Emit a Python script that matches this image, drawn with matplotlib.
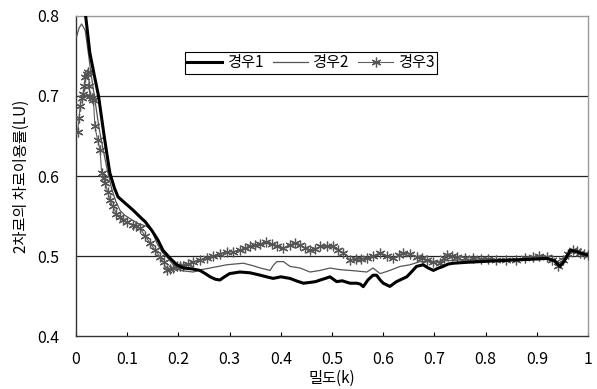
import matplotlib
matplotlib.use("Agg")
import matplotlib.pyplot as plt

plt.rcParams['font.family'] = ['Noto Sans CJK KR', 'DejaVu Sans']

case1_x = [0.012, 0.018, 0.027, 0.036, 0.044, 0.055, 0.066, 0.075, 0.082, 0.096, 0.105, 0.112, 0.12, 0.128,
           0.135, 0.148, 0.16, 0.17, 0.184, 0.197, 0.21, 0.225, 0.242, 0.255, 0.262, 0.272, 0.281, 0.29,
           0.30, 0.32, 0.34, 0.36, 0.372, 0.385, 0.40, 0.418, 0.43, 0.444, 0.457, 0.468, 0.477, 0.487,
           0.496, 0.509, 0.52, 0.535, 0.548, 0.555, 0.561, 0.57, 0.58, 0.587, 0.594, 0.60, 0.613, 0.626,
           0.636, 0.646, 0.655, 0.665, 0.678, 0.688, 0.698, 0.708, 0.717, 0.727, 0.737, 0.76, 0.789, 0.82,
           0.854, 0.89, 0.92, 0.935, 0.945, 0.953, 0.965, 0.975, 0.984, 1.0]
case1_y = [0.83, 0.805, 0.754, 0.725, 0.70, 0.65, 0.604, 0.585, 0.574, 0.566, 0.561, 0.557, 0.552, 0.547,
           0.543, 0.532, 0.52, 0.507, 0.497, 0.489, 0.485, 0.484, 0.482, 0.477, 0.474, 0.471, 0.470, 0.474,
           0.478, 0.480, 0.479, 0.476, 0.474, 0.472, 0.474, 0.472, 0.469, 0.466, 0.467, 0.468, 0.470, 0.472,
           0.474, 0.468, 0.469, 0.466, 0.466, 0.465, 0.4617, 0.47, 0.476, 0.476, 0.470, 0.466, 0.462, 0.468,
           0.471, 0.474, 0.480, 0.487, 0.489, 0.485, 0.482, 0.485, 0.487, 0.490, 0.491, 0.492, 0.493, 0.494,
           0.495, 0.496, 0.497, 0.494, 0.487, 0.493, 0.507, 0.506, 0.504, 0.501]

case2_x = [0.001, 0.006, 0.011, 0.018, 0.024, 0.03, 0.037, 0.045, 0.053, 0.062, 0.07, 0.078, 0.086, 0.095,
           0.105, 0.12, 0.138, 0.148, 0.158, 0.168, 0.177, 0.19, 0.203, 0.215, 0.229, 0.245, 0.262, 0.278,
           0.294, 0.31, 0.327, 0.345, 0.36, 0.379, 0.385, 0.392, 0.405, 0.418, 0.4375, 0.457, 0.477, 0.496,
           0.515, 0.535, 0.552, 0.568, 0.58, 0.594, 0.613, 0.633, 0.652, 0.672, 0.698, 0.72, 0.75, 0.79,
           0.83, 0.87, 0.91, 0.94, 0.95, 0.965, 0.98, 1.0]
case2_y = [0.774, 0.785, 0.79, 0.782, 0.754, 0.725, 0.695, 0.66, 0.633, 0.605, 0.583, 0.568, 0.557, 0.551,
           0.547, 0.541, 0.537, 0.532, 0.516, 0.505, 0.499, 0.489, 0.482, 0.481, 0.48, 0.483, 0.485, 0.487,
           0.489, 0.49, 0.491, 0.488, 0.485, 0.482, 0.488, 0.493, 0.493, 0.487, 0.485, 0.480, 0.482, 0.485,
           0.483, 0.482, 0.481, 0.48, 0.485, 0.478, 0.482, 0.487, 0.489, 0.493, 0.493, 0.494, 0.495, 0.495,
           0.496, 0.496, 0.498, 0.493, 0.497, 0.505, 0.505, 0.502]

case3_x = [0.003, 0.006, 0.008, 0.011, 0.014, 0.016, 0.018, 0.021, 0.024, 0.026, 0.027, 0.031, 0.034, 0.037,
           0.042, 0.047, 0.05, 0.054, 0.057, 0.062, 0.066, 0.072, 0.079, 0.085, 0.092, 0.1, 0.111, 0.118,
           0.125, 0.135, 0.145, 0.155, 0.164, 0.171, 0.177, 0.184, 0.19, 0.197, 0.203, 0.209, 0.218, 0.228,
           0.242, 0.255, 0.268, 0.281, 0.295, 0.307, 0.32, 0.33, 0.34, 0.35, 0.36, 0.372, 0.382, 0.392,
           0.405, 0.418, 0.428, 0.4375, 0.447, 0.457, 0.467, 0.477, 0.49, 0.502, 0.512, 0.522, 0.535, 0.547,
           0.557, 0.568, 0.58, 0.594, 0.607, 0.62, 0.63, 0.639, 0.652, 0.665, 0.675, 0.685, 0.698, 0.711,
           0.718, 0.724, 0.734, 0.744, 0.76, 0.776, 0.79, 0.805, 0.82, 0.84, 0.86, 0.876, 0.893, 0.905,
           0.919, 0.93, 0.942, 0.951, 0.96, 0.971, 0.978, 0.984, 0.992, 1.0]
case3_y = [0.655, 0.672, 0.687, 0.698, 0.703, 0.712, 0.724, 0.728, 0.73, 0.712, 0.70, 0.698, 0.695, 0.662,
           0.645, 0.633, 0.604, 0.598, 0.591, 0.58, 0.57, 0.562, 0.553, 0.549, 0.545, 0.542, 0.539, 0.537,
           0.535, 0.525, 0.516, 0.507, 0.499, 0.492, 0.4825, 0.484, 0.485, 0.487, 0.487, 0.488, 0.49, 0.492,
           0.495, 0.498, 0.5, 0.503, 0.505, 0.505, 0.507, 0.51, 0.512, 0.514, 0.515, 0.518, 0.515, 0.512,
           0.51, 0.514, 0.516, 0.514, 0.51, 0.507, 0.509, 0.512, 0.512, 0.512, 0.508, 0.504, 0.495, 0.496,
           0.496, 0.497, 0.5, 0.504, 0.5, 0.497, 0.501, 0.504, 0.502, 0.499, 0.497, 0.495, 0.493, 0.491,
           0.497, 0.501, 0.5, 0.499, 0.498, 0.497, 0.496, 0.496, 0.495, 0.495, 0.495, 0.497, 0.499, 0.5,
           0.499, 0.495, 0.487, 0.495, 0.502, 0.507, 0.506, 0.504, 0.502, 0.501]

labels = ['경우1', '경우2', '경우3']
x_ticks = [0, 0.1, 0.2, 0.3, 0.4, 0.5, 0.6, 0.7, 0.8, 0.9, 1]
x_ticklabels = ['0', '0.1', '0.2', '0.3', '0.4', '0.5', '0.6', '0.7', '0.8', '0.9', '1']
y_ticks = [0.4, 0.5, 0.6, 0.7, 0.8]
y_ticklabels = ['0.4', '0.5', '0.6', '0.7', '0.8']

fig = plt.figure(figsize=(5.97, 3.89), dpi=100)
ax = fig.add_axes([0.1273, 0.1362, 0.985 - 0.1273, 0.9589 - 0.1362])

l1, = ax.plot(case1_x, case1_y, color='black', lw=2.2, zorder=5, label=labels[0])
l2, = ax.plot(case2_x, case2_y, color='#555555', lw=0.9, zorder=4, label=labels[1])
l3, = ax.plot(case3_x, case3_y, color='#606060', lw=0.8, marker=(6, 2, 0), markersize=7,
              markeredgewidth=0.9, markeredgecolor='#555555', zorder=3, label=labels[2])

ax.set_xlim(0, 1)
ax.set_ylim(0.4, 0.8)
ax.set_xticks(x_ticks)
ax.set_xticklabels(x_ticklabels)
ax.set_yticks(y_ticks)
ax.set_yticklabels(y_ticklabels)
ax.tick_params(axis='x', direction='in', length=3, width=0.8, pad=11, labelsize=11.5)
ax.tick_params(axis='y', length=0, pad=12, labelsize=11.5)

for y in [0.5, 0.6, 0.7]:
    ax.axhline(y, color='#222222', lw=0.9, zorder=1)

for s in ['left', 'bottom']:
    ax.spines[s].set_color('#333333')
    ax.spines[s].set_linewidth(1.0)
for s in ['top', 'right']:
    ax.spines[s].set_color('#999999')
    ax.spines[s].set_linewidth(1.0)

ax.set_xlabel('밀도(k)', fontsize=11, labelpad=1)
ax.set_ylabel('2차로의 차로이용률(LU)', fontsize=11, labelpad=5)

leg = ax.legend(handles=[l1, l2, l3], loc='upper left', bbox_to_anchor=(0.213, 0.8875), ncol=3,
                fancybox=False, frameon=True, edgecolor='black', framealpha=1, fontsize=11,
                handlelength=2.3, handletextpad=0.3, columnspacing=0.6, borderpad=0.15,
                borderaxespad=0)
leg.get_frame().set_linewidth(0.8)

fig.savefig('out.png', dpi=100)
